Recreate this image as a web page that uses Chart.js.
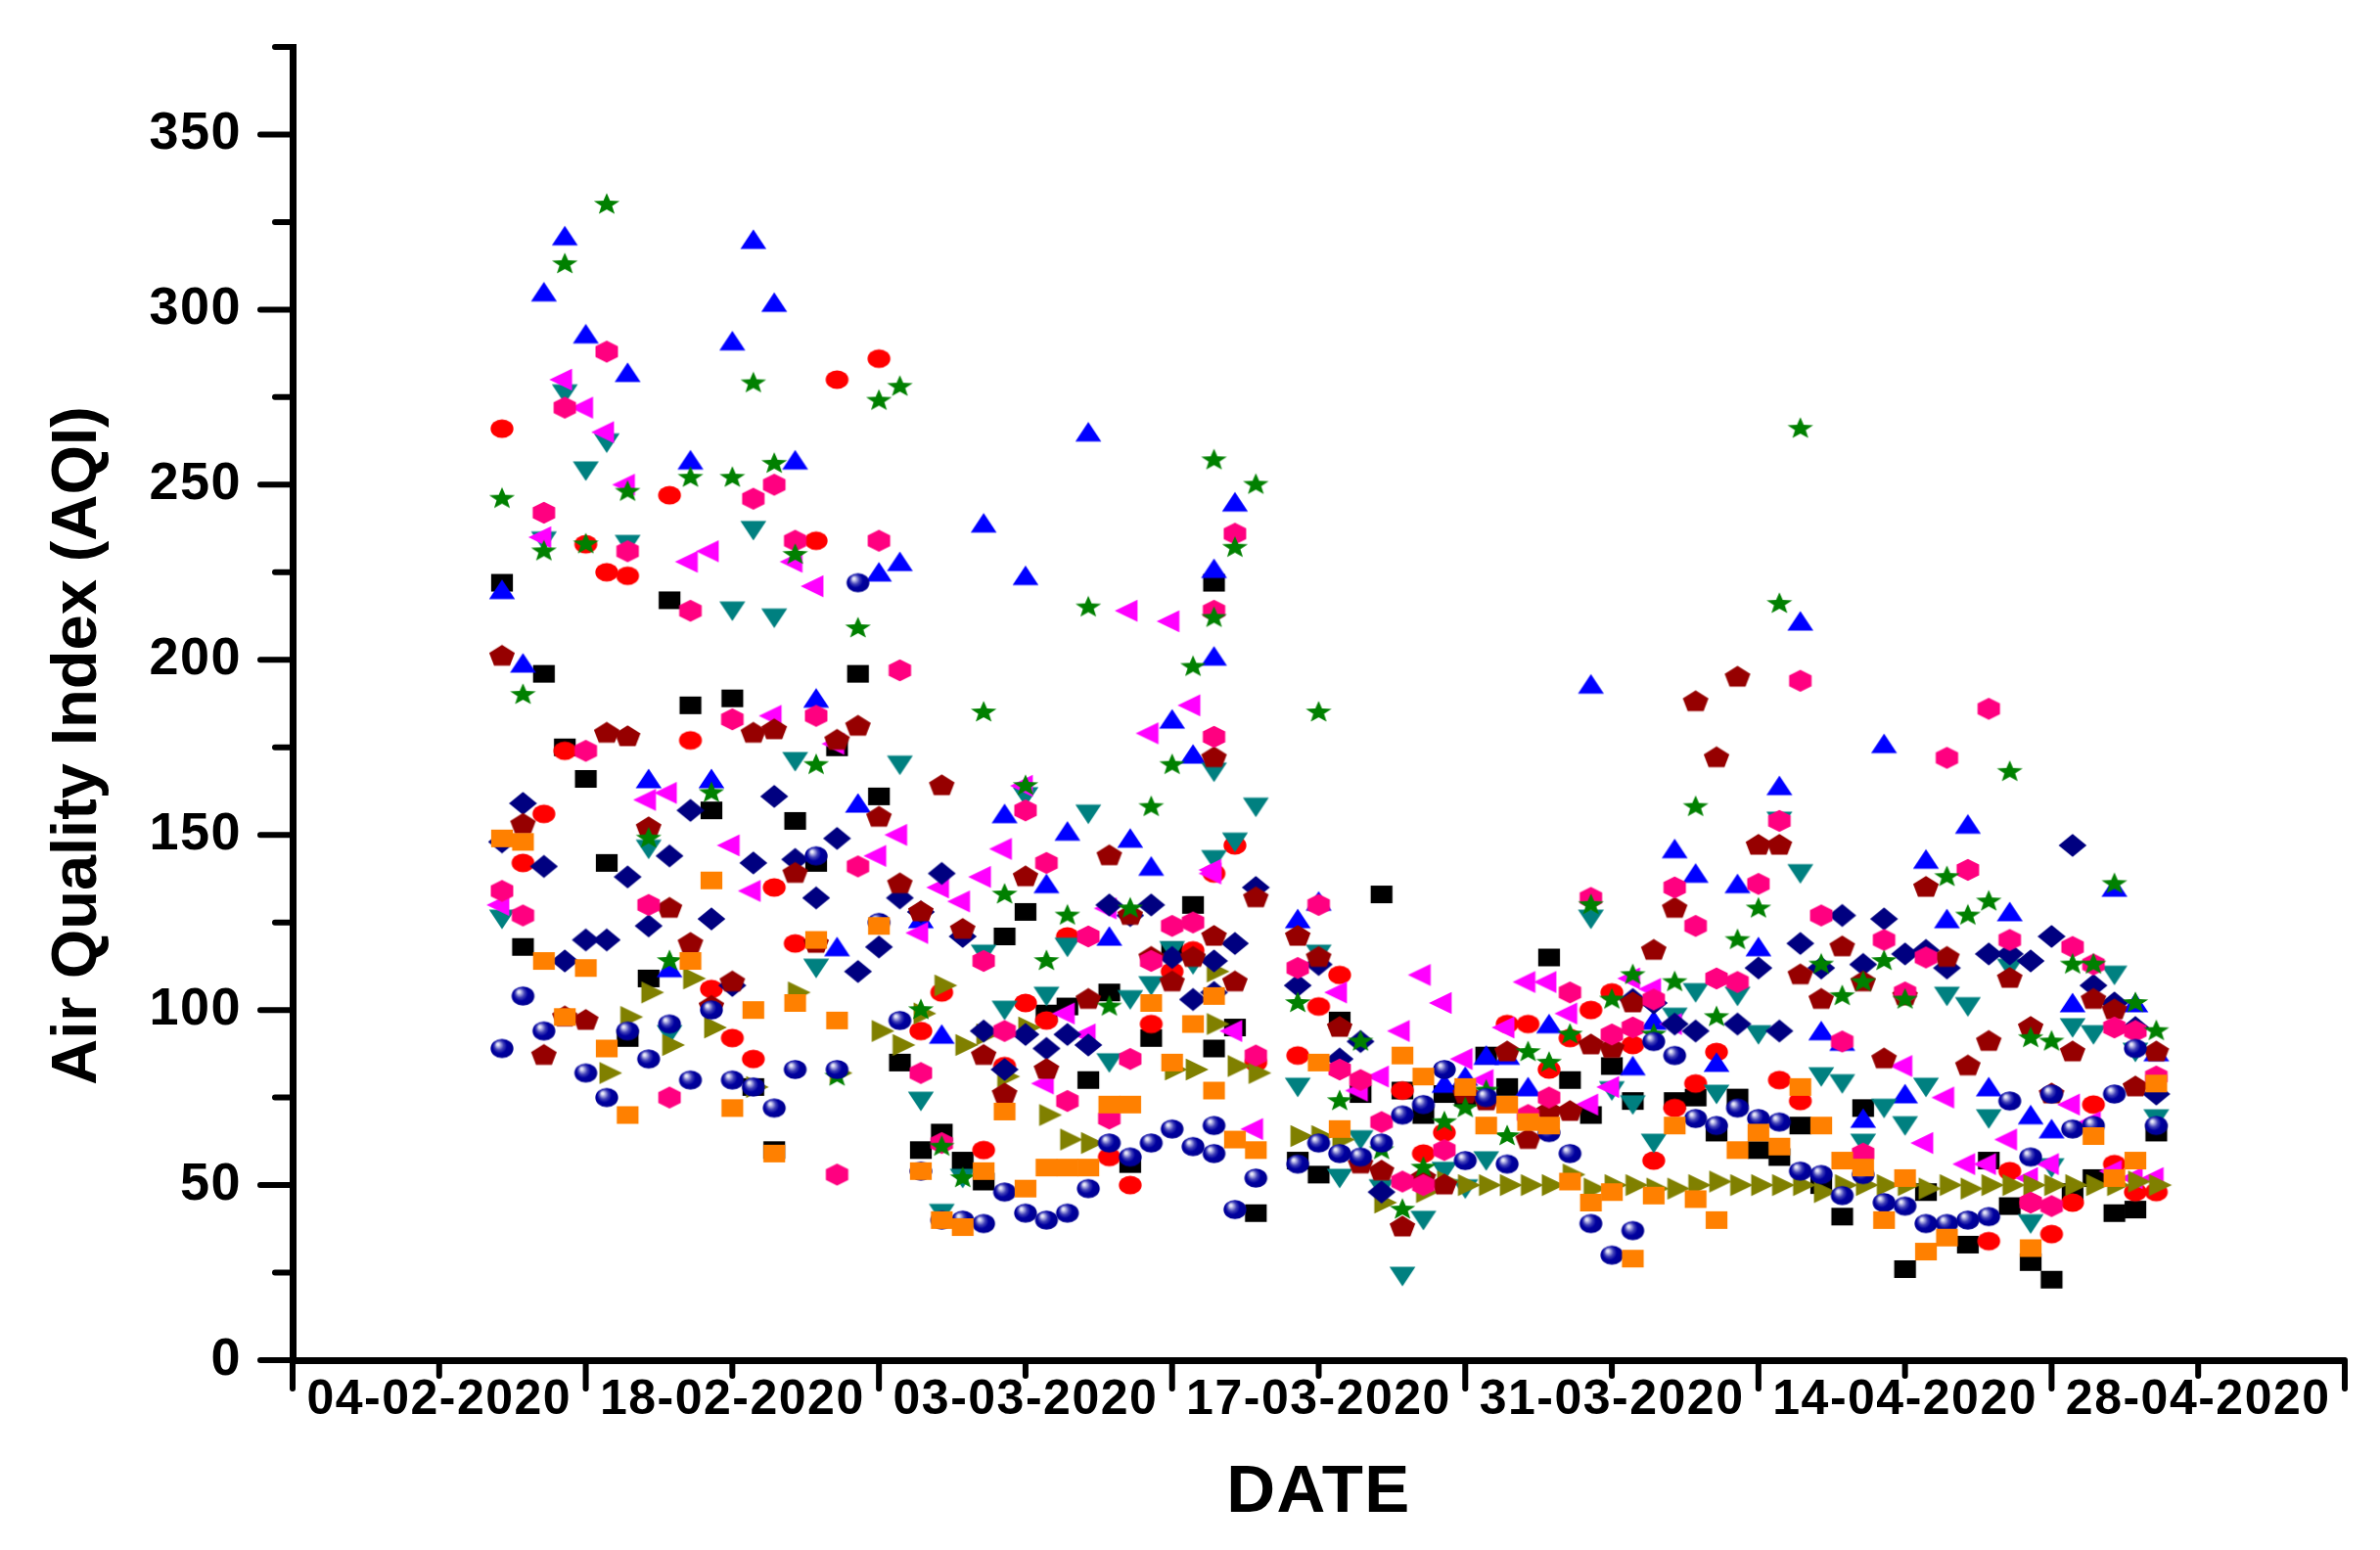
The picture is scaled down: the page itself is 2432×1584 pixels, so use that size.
<!DOCTYPE html>
<html>
<head>
<meta charset="utf-8">
<title>Air Quality Index</title>
<script src="https://cdn.jsdelivr.net/npm/chart.js@4/dist/chart.umd.js"></script>
<style>
  html, body { margin: 0; padding: 0; background: #fff; }
  canvas { display: block; }
</style>
</head>
<body>
<canvas id="aqi_chart" width="2432" height="1584"></canvas>
<script>
const _ = null;

// 07-02-2020 to 26-04-2020, last entry of every series is the second reading on 12-03-2020
const firstDay = 10, dayCount = 80, repeatedDay = 44;
const tickLabels = ['04-02-2020', '18-02-2020', '03-03-2020', '17-03-2020', '31-03-2020', '14-04-2020', '28-04-2020'];
const yTickValues = [0, 50, 100, 150, 200, 250, 300, 350];

const blackSquare = [222,118,196,175,166,142,92,109,217,187,
  157,189,78,60,154,142,175,196,161,85,
  60,65,57,51,121,128,99,101,80,105,
  56,92,117,130,89,95,42,_,57,53,
  97,76,133,77,70,76,75,87,78,_,
  115,80,70,84,74,_,74,75,65,75,
  60,58,67,50,41,72,_,26,48,_,
  33,57,44,28,23,48,52,42,43,65, 222];
const redCircle = [266,142,156,174,233,225,224,_,247,177,
  106,92,86,135,119,234,280,_,286,_,
  94,105,_,60,84,102,97,121,_,58,
  50,96,111,117,139,147,85,_,87,101,
  110,_,_,77,59,65,_,_,96,96,
  83,92,100,105,90,57,72,79,88,_,
  _,80,74,_,_,_,_,_,_,_,
  _,34,54,45,36,45,73,56,48,48, _];
const blueUp = [220,199,305,321,293,_,282,166,112,257,
  166,291,320,302,257,189,118,159,225,228,
  126,93,_,239,156,224,136,151,265,121,
  149,141,183,173,226,245,_,_,126,131,
  _,_,_,_,_,79,81,87,87,78,
  96,_,193,_,84,97,146,139,85,136,
  118,164,211,94,91,69,176,76,143,126,
  153,78,128,70,66,102,_,135,102,88, 201];
const tealDown = [126,_,234,276,254,262,233,146,93,_,
  _,214,237,212,171,112,_,_,_,170,
  74,42,52,116,100,161,104,118,156,85,
  103,107,117,113,168,148,158,_,78,116,
  52,63,49,24,40,54,49,57,_,_,
  _,_,126,77,73,62,98,105,76,104,
  93,154,139,81,79,62,72,67,78,104,
  101,69,112,39,55,95,93,110,88,69, 143];
const magentaLeft = [130,_,235,280,272,265,250,160,162,228,
  231,147,134,184,228,221,176,_,144,150,
  122,135,131,138,146,164,79,99,93,129,
  214,179,211,187,140,94,66,_,_,_,
  105,77,81,94,110,102,86,80,95,108,
  108,99,73,78,109,106,96,_,_,_,
  _,_,_,_,_,_,_,84,62,75,
  56,56,63,52,56,73,68,54,52,52, 139];
const oliveRight = [_,_,_,_,_,82,98,105,90,109,
  95,_,78,_,105,_,82,_,94,90,
  99,107,90,93,81,95,70,63,62,_,
  _,_,83,83,96,84,82,_,64,64,
  63,_,45,_,48,51,50,50,50,50,
  50,53,49,50,50,49,49,50,51,50,
  50,50,50,48,50,50,50,50,49,50,
  49,50,50,50,50,50,50,50,51,50, 111];
const navyDiamond = [148,159,141,114,120,120,138,124,144,157,
  126,107,142,161,143,132,149,111,118,132,
  128,139,121,94,83,93,89,93,90,130,
  127,130,115,103,114,119,135,_,107,113,
  86,91,48,_,_,_,_,_,_,_,
  _,_,_,_,103,102,96,94,_,96,
  112,94,119,112,127,113,126,116,117,112,
  _,116,116,114,121,147,107,102,95,76, 105];
const winePentagon = [201,153,87,98,97,179,178,152,129,119,
  101,108,179,180,139,119,177,181,155,136,
  128,164,123,87,76,138,83,_,103,144,
  127,115,108,115,172,108,132,_,121,115,
  95,56,54,38,52,50,76,74,88,63,
  71,71,90,89,102,117,129,188,172,195,
  147,147,110,103,118,108,86,104,135,115,
  84,91,109,95,76,88,103,100,78,88, 121];
const pinkHexagon = [134,127,242,272,174,288,231,130,75,214,
  _,183,246,250,234,184,53,141,234,197,
  82,62,_,114,94,157,142,74,121,69,
  86,114,124,125,214,236,87,_,112,130,
  83,80,68,51,50,60,_,_,_,70,
  75,105,132,93,95,103,135,124,109,108,
  136,154,194,127,91,59,120,105,115,172,
  140,186,120,45,44,118,113,95,94,81, 178];
const greenStar = [246,190,231,313,233,330,248,149,114,252,
  162,252,279,256,230,170,81,209,274,278,
  100,61,52,185,133,164,114,127,215,101,
  129,158,170,198,257,232,250,_,102,185,
  74,91,60,43,55,68,72,77,64,88,
  85,93,130,103,110,93,108,158,98,120,
  129,216,266,113,104,108,114,103,_,138,
  127,131,168,92,91,113,113,136,102,94, 212];
const blueBall = [89,104,94,_,82,75,94,86,96,80,
  100,80,78,72,83,144,83,222,125,97,
  54,40,40,39,48,42,40,42,49,62,
  58,62,66,61,67,43,52,_,56,62,
  59,58,62,70,73,83,57,75,56,_,
  65,59,39,30,37,91,87,69,67,72,
  69,68,54,53,47,53,45,44,39,39,
  40,41,74,58,76,66,67,76,89,67, 59];
const orangeSquare = [149,148,114,98,112,89,70,_,_,114,
  137,72,100,59,102,120,97,_,124,_,
  54,40,38,54,71,49,55,55,55,73,
  73,102,85,96,104,63,60,_,_,85,
  66,_,_,87,81,_,78,67,73,68,
  67,51,45,48,29,47,67,46,40,60,
  65,61,78,67,57,55,40,52,31,35,
  _,_,_,32,_,_,64,52,57,79, 77];

const dayAxis = [];
for (let i = 0; i < dayCount; i++) dayAxis.push(firstDay + i);
dayAxis.push(repeatedDay);

/*
* marker sprites, the chart only has simple point styles so draw our own
*/
function sprite(paint) {
    const c = document.createElement('canvas');
    c.width = 40; c.height = 40;
    const g = c.getContext('2d');
    g.translate(20, 20);
    g.scale(1.06, 1.06);
    paint(g);
    return c;
}
function poly(g, color, pts) {
    g.fillStyle = color;
    g.beginPath();
    pts.forEach((p, i) => i ? g.lineTo(p[0], p[1]) : g.moveTo(p[0], p[1]));
    g.closePath();
    g.fill();
}
function regular(n, rx, ry, start) {
    const pts = [];
    for (let i = 0; i < n; i++) {
        const a = start + i * 2 * Math.PI / n;
        pts.push([rx * Math.cos(a), ry * Math.sin(a)]);
    }
    return pts;
}
function starPts(rx, ry) {
    const pts = [];
    for (let i = 0; i < 10; i++) {
        const a = -Math.PI / 2 + i * Math.PI / 5;
        const k = i % 2 ? 0.42 : 1;
        pts.push([rx * k * Math.cos(a), ry * k * Math.sin(a)]);
    }
    return pts;
}

const markers = {
    square: sprite(g => { g.fillStyle = '#000'; g.fillRect(-10.5, -8.5, 21, 17); }),
    circle: sprite(g => { g.fillStyle = '#ff0000'; g.beginPath(); g.ellipse(0, 0, 11, 9, 0, 0, 7); g.fill(); }),
    up: sprite(g => poly(g, '#0000ff', [[0, -10], [12.5, 9], [-12.5, 9]])),
    down: sprite(g => poly(g, '#008080', [[-12.5, -9], [12.5, -9], [0, 10]])),
    left: sprite(g => poly(g, '#ff00ff', [[-15, 0], [7, -10.5], [7, 10.5]])),
    right: sprite(g => poly(g, '#808000', [[-7, -10.5], [15, 0], [-7, 10.5]])),
    diamond: sprite(g => poly(g, '#000080', [[0, -11], [13.5, 0], [0, 11], [-13.5, 0]])),
    pentagon: sprite(g => poly(g, '#960000', regular(5, 13, 11, -Math.PI / 2))),
    hexagon: sprite(g => poly(g, '#ff0080', regular(6, 12.5, 10.5, -Math.PI / 2))),
    star: sprite(g => poly(g, '#008000', starPts(13, 11))),
    ball: sprite(g => {
        const grad = g.createRadialGradient(-4, -4, 1, -1, -1, 11);
        grad.addColorStop(0, '#e8e8f8');
        grad.addColorStop(0.35, '#4040b8');
        grad.addColorStop(0.6, '#0000a0');
        grad.addColorStop(1, '#000090');
        g.fillStyle = grad;
        g.beginPath(); g.ellipse(0, 0, 11, 9.3, 0, 0, 7); g.fill();
    }),
    orange: sprite(g => { g.fillStyle = '#ff8000'; g.fillRect(-10.5, -8.5, 21, 17); })
};

// back to front, same stacking as the picture
const seriesList = [
    [blackSquare, markers.square],
    [redCircle, markers.circle],
    [blueUp, markers.up],
    [tealDown, markers.down],
    [magentaLeft, markers.left],
    [oliveRight, markers.right],
    [navyDiamond, markers.diamond],
    [winePentagon, markers.pentagon],
    [pinkHexagon, markers.hexagon],
    [greenStar, markers.star],
    [blueBall, markers.ball],
    [orangeSquare, markers.orange]
];

const datasets = seriesList.map((s, idx) => ({
    data: dayAxis.map((d, i) => ({x: d, y: s[0][i]})),
    showLine: false,
    pointStyle: s[1],
    pointRadius: 12,
    pointHoverRadius: 12,
    order: seriesList.length - idx,
    clip: false
}));

const axisTicks = {
    id: 'axisTicks',
    beforeDraw(chart) {
        chart.ctx.letterSpacing = '1.5px';
    },
    afterDraw(chart) {
        const ctx = chart.ctx, xs = chart.scales.x, ys = chart.scales.y;
        const ax = xs.left, ay = ys.bottom;
        ctx.save();
        ctx.strokeStyle = '#000';
        ctx.lineWidth = 6;
        ctx.lineCap = 'round';
        ctx.beginPath();
        ys.ticks.forEach(t => {
            const p = ys.getPixelForValue(t.value);
            ctx.moveTo(ax, p);
            ctx.lineTo(ax - (t.value % 50 === 0 ? 33 : 18), p);
        });
        xs.ticks.forEach(t => {
            const p = xs.getPixelForValue(t.value);
            ctx.moveTo(p, ay);
            ctx.lineTo(p, ay + (t.value % 14 === 0 ? 29 : 16));
        });
        ctx.stroke();
        ctx.translate(80, 762);
        ctx.rotate(-Math.PI / 2);
        ctx.fillStyle = '#000';
        ctx.font = 'bold 65px "Liberation Sans"';
        ctx.textAlign = 'center';
        ctx.textBaseline = 'middle';
        ctx.letterSpacing = '0px';
        ctx.fillText('Air Quality Index (AQI)', 0, 0);
        ctx.restore();
    }
};

new Chart(document.getElementById('aqi_chart'), {
    type: 'scatter',
    data: {datasets: datasets},
    plugins: [axisTicks],
    options: {
        responsive: false,
        animation: false,
        layout: {padding: {top: 48, right: 36, left: 0, bottom: 0}},
        plugins: {legend: {display: false}, tooltip: {enabled: false}},
        scales: {
            x: {
                type: 'linear',
                min: 0,
                max: 98,
                afterFit: scale => {
                    scale.height = 194;
                    scale.paddingLeft = 0;
                    scale.paddingRight = 0;
                },
                afterBuildTicks: scale => {
                    scale.ticks = [];
                    for (let v = 0; v <= 98; v += 7) scale.ticks.push({value: v});
                },
                grid: {display: false, drawTicks: false},
                border: {display: true, color: '#000', width: 7},
                ticks: {
                    autoSkip: false,
                    maxRotation: 0,
                    padding: 11,
                    color: '#000',
                    font: {family: '"Liberation Sans"', weight: 'bold', size: 50},
                    callback: v => (v % 14 === 7 ? tickLabels[(v - 7) / 14] : '')
                },
                title: {
                    display: true,
                    text: 'DATE',
                    color: '#000',
                    font: {family: '"Liberation Sans"', weight: 'bold', size: 69},
                    padding: {top: 0, bottom: 17}
                }
            },
            y: {
                min: 0,
                max: 375,
                afterFit: scale => {
                    scale.width = 299;
                    scale.paddingTop = 0;
                    scale.paddingBottom = 0;
                },
                grid: {display: false, drawTicks: false},
                border: {display: true, color: '#000', width: 7},
                ticks: {
                    stepSize: 25,
                    autoSkip: false,
                    padding: 52,
                    color: '#000',
                    font: {family: '"Liberation Sans"', weight: 'bold', size: 54},
                    callback: v => (yTickValues.includes(v) ? String(v) : '')
                }
            }
        }
    }
});
</script>
</body>
</html>
